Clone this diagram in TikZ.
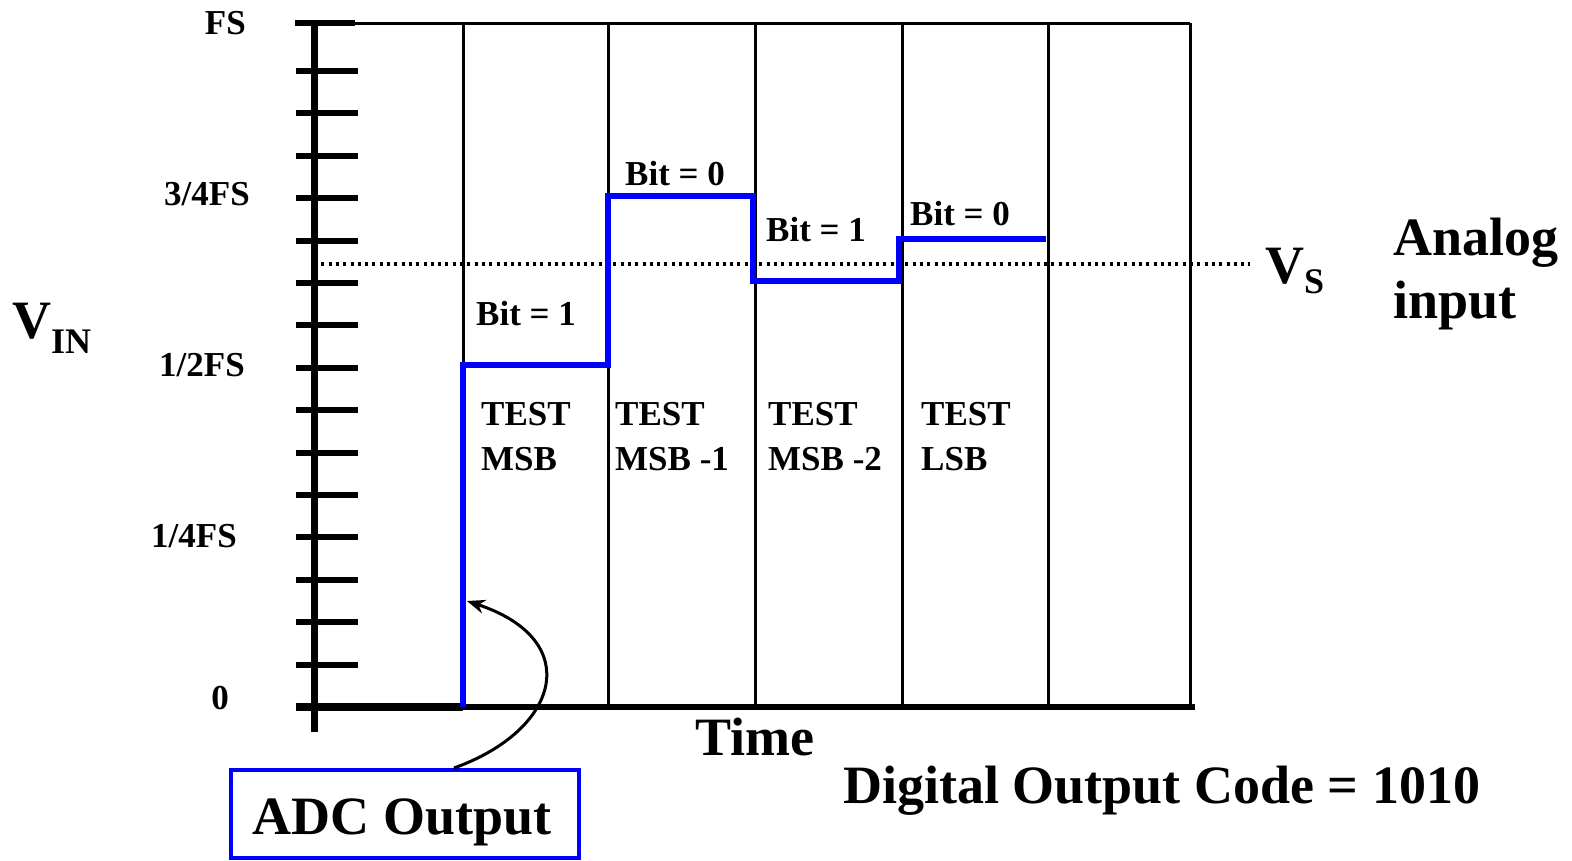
\documentclass[tikz,border=0pt]{standalone}
\usepackage{fontspec}
\setmainfont{Liberation Serif}
\usetikzlibrary{arrows.meta}
\definecolor{stepblue}{RGB}{0,0,255}
\tikzset{
  lbl/.style={font=\fontsize{35}{38}\selectfont\bfseries, inner sep=0pt},
  biglbl/.style={font=\fontsize{54}{57}\selectfont\bfseries, inner sep=0pt},
  grid/.style={line width=3pt},
  axis/.style={line width=7pt},
  tick/.style={line width=6pt},
  adcline/.style={stepblue, line width=6pt, line join=miter},
}
\begin{document}
\begin{tikzpicture}[x=1pt,y=-1pt]
\useasboundingbox (0,0) rectangle (1572,860);

% frame and time slots
\draw[grid] (355,23) -- (1190,23);
\foreach \x in {463,608,755,902,1048,1190}
  \draw[grid] (\x,23) -- (\x,707);

% voltage axis with ticks
\draw[axis] (314,23) -- (314,732);
\draw[tick] (295,23) -- (355,23);
\foreach \k in {0,...,15}
  \draw[tick] (296,707-\k*42.4) -- (358,707-\k*42.4);

% time axis
\draw[line width=6pt] (296,707) -- (1195,707);
\draw[line width=8pt] (296,707) -- (463,707);

% analog input level
\draw[line width=3.5pt, dash pattern=on 3pt off 4.3pt] (314,264) -- (1250,264);

% successive approximation output
\draw[adcline] (463,707) -- (463,365) -- (608,365) -- (608,196) -- (753,196)
  -- (753,281) -- (899,281) -- (899,239) -- (1046,239);
\coordinate (tip) at (467,601);

% axis labels
\node[lbl, anchor=base east] (fs)  at (246,34)  {FS};
\node[lbl, anchor=base east] (tq)  at (250,205) {3/4FS};
\node[lbl, anchor=base east] (hf)  at (245,376) {1/2FS};
\node[lbl, anchor=base east] (qt)  at (237,547) {1/4FS};
\node[lbl, anchor=base east] (zr)  at (229,709) {0};

% bit decisions
\node[lbl, anchor=base west] (b1) at (476,325) {Bit = 1};
\node[lbl, anchor=base west] (b2) at (625,185) {Bit = 0};
\node[lbl, anchor=base west] (b3) at (766,241) {Bit = 1};
\node[lbl, anchor=base west] (b4) at (910,225) {Bit = 0};

% test steps
\node[lbl, anchor=base west] (t1a) at (481,425) {TEST};
\node[lbl, anchor=base west] (t1b) at (481,470) {MSB};
\node[lbl, anchor=base west] (t2a) at (615,425) {TEST};
\node[lbl, anchor=base west] (t2b) at (615,470) {MSB -1};
\node[lbl, anchor=base west] (t3a) at (768,425) {TEST};
\node[lbl, anchor=base west] (t3b) at (768,470) {MSB -2};
\node[lbl, anchor=base west] (t4a) at (921,425) {TEST};
\node[lbl, anchor=base west] (t4b) at (921,470) {LSB};

% titles
\node[biglbl, anchor=base west] (vin) at (12,338)
  {V\raisebox{-0.28em}{\fontsize{36}{38}\selectfont IN}};
\node[biglbl, anchor=base west] (vs) at (1265,283)
  {V\raisebox{-0.2em}{\fontsize{36}{38}\selectfont S}};
\node[biglbl, anchor=base west] (an) at (1393,255) {Analog};
\node[biglbl, anchor=base west] (in) at (1393,318) {input};
\node[biglbl, anchor=base west] (tm) at (695,755) {Time};
\node[biglbl, anchor=base west] (code) at (843,803) {Digital Output Code = 1010};

% output callout
\node[draw=stepblue, line width=4pt, minimum width=348pt,
      minimum height=88pt, anchor=north west] (adc) at (229,768) {};
\node[biglbl, anchor=base] (adct) at (402,834) {ADC Output};
\draw[line width=3pt, -{Stealth[length=18pt,width=14pt]}]
  ([xshift=49pt]adc.north) .. controls (560,730) and (585,640) .. (tip);
\end{tikzpicture}
\end{document}
